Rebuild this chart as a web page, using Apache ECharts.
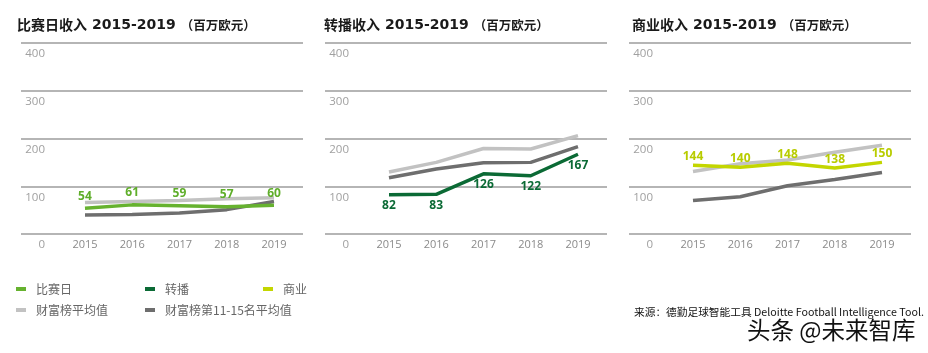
<!DOCTYPE html>
<html>
<head>
<meta charset="utf-8">
<script src="https://cdn.jsdelivr.net/npm/echarts@6/dist/echarts.min.js"></script>
<style>
  html, body { margin: 0; padding: 0; background: #fff; }
  #chart { width: 928px; height: 353px; }
</style>
</head>
<body>
<div id="chart"></div>
<script>
var years = [2015, 2016, 2017, 2018, 2019];

var matchday = [54, 61, 59, 57, 60];
var matchdayTopAvg = [66, 68, 70, 74, 76];
var matchdayMidAvg = [40, 41, 44, 51, 68];

var broadcast = [82, 83, 126, 122, 167];
var broadcastTopAvg = [130, 150, 179, 178, 206];
var broadcastMidAvg = [118, 136, 149, 150, 183];

var commercial = [144, 140, 148, 138, 150];
var commercialTopAvg = [131, 147, 155, 171, 186];
var commercialMidAvg = [70, 78, 101, 114, 129];

var TOP_NAME = '财富榜平均值';
var MID_NAME = '财富榜第11-15名平均值';
var TOP_COLOR = '#c2c2c2';
var MID_COLOR = '#6e6e6e';

var panels = [
  {title: '比赛日收入', name: '比赛日', color: '#66b22f', labelColor: '#5fae2a',
   main: matchday, top: matchdayTopAvg, mid: matchdayMidAvg,
   labelPos: 'top', labelDist: 6, left: 21, titleLeft: 17},
  {title: '转播收入', name: '转播', color: '#0b6a35', labelColor: '#0b6a35',
   main: broadcast, top: broadcastTopAvg, mid: broadcastMidAvg,
   labelPos: 'bottom', labelDist: 5, left: 325, titleLeft: 324},
  {title: '商业收入', name: '商业', color: '#c3d600', labelColor: '#b8cc00',
   main: commercial, top: commercialTopAvg, mid: commercialMidAvg,
   labelPos: 'top', labelDist: 3, left: 629, titleLeft: 632}
];

function pairs(vals) {
  return years.map(function (y, i) { return [y, vals[i]]; });
}

var chart = echarts.init(document.getElementById('chart'), null, {renderer: 'canvas'});

var titles = [], grids = [], xAxes = [], yAxes = [], series = [];

panels.forEach(function (p, i) {
  titles.push({
    text: '{c|' + p.title + '} {n|2015-2019} {p|（百万欧元）}',
    left: p.titleLeft,
    top: 16,
    padding: 0,
    textStyle: {
      rich: {
        c: {fontFamily: 'Noto Sans CJK SC', fontWeight: 'bold', fontSize: 14, color: '#1a1a1a', lineHeight: 18},
        n: {fontFamily: 'DejaVu Sans', fontWeight: 'bold', fontSize: 14, color: '#1a1a1a', lineHeight: 18},
        p: {fontFamily: 'Noto Sans CJK SC', fontWeight: 'bold', fontSize: 12.5, color: '#1a1a1a', lineHeight: 18}
      }
    }
  });
  grids.push({left: p.left, top: 43, width: 282, height: 191});
  xAxes.push({
    type: 'value',
    gridIndex: i,
    min: 2013.646,
    max: 2019.614,
    minInterval: 1,
    axisLine: {show: false},
    axisTick: {show: false},
    splitLine: {show: false},
    axisLabel: {
      showMinLabel: false,
      showMaxLabel: false,
      margin: 5,
      color: '#8a8a8a',
      fontSize: 11,
      fontFamily: 'Open Sans',
      formatter: function (v) { return years.indexOf(v) >= 0 ? String(v) : ''; }
    }
  });
  yAxes.push({
    type: 'value',
    gridIndex: i,
    min: 0,
    max: 400,
    interval: 100,
    axisLine: {show: false},
    axisTick: {show: false},
    splitLine: {show: true, lineStyle: {color: '#9c9c9c', width: 1.5}},
    axisLabel: {
      inside: true,
      align: 'right',
      verticalAlign: 'top',
      margin: 24,
      padding: [5, 0, 0, 0],
      color: '#a0a0a0',
      fontSize: 11.5,
      fontFamily: 'Open Sans'
    }
  });
  var base = {
    type: 'line',
    xAxisIndex: i,
    yAxisIndex: i,
    symbol: 'none',
    animation: false
  };
  series.push(Object.assign({}, base, {
    name: TOP_NAME, data: pairs(p.top), z: 2,
    itemStyle: {color: TOP_COLOR},
    lineStyle: {color: TOP_COLOR, width: 3.5}
  }));
  series.push(Object.assign({}, base, {
    name: MID_NAME, data: pairs(p.mid), z: 3,
    itemStyle: {color: MID_COLOR},
    lineStyle: {color: MID_COLOR, width: 3.5}
  }));
  series.push(Object.assign({}, base, {
    name: p.name, data: pairs(p.main), z: 4,
    symbol: 'circle',
    symbolSize: 0,
    showSymbol: true,
    itemStyle: {color: p.color},
    lineStyle: {color: p.color, width: 3.5},
    label: {
      show: true,
      position: p.labelPos,
      distance: p.labelDist,
      color: p.labelColor,
      fontSize: 12,
      fontWeight: 'bold',
      fontFamily: 'Open Sans',
      formatter: function (d) { return d.value[1]; }
    }
  }));
});

function legendAt(name, left, top) {
  return {
    data: [name],
    left: left,
    top: top,
    padding: 0,
    icon: 'rect',
    itemWidth: 10,
    itemHeight: 4,
    textStyle: {color: '#666', fontSize: 12, fontFamily: 'Noto Sans CJK SC', padding: [0, 0, 0, 5]}
  };
}

var option = {
  animation: false,
  title: titles,
  grid: grids,
  xAxis: xAxes,
  yAxis: yAxes,
  legend: [
    legendAt('比赛日', 16, 283),
    legendAt('转播', 145, 283),
    legendAt('商业', 263, 283),
    legendAt(TOP_NAME, 16, 304),
    legendAt(MID_NAME, 145, 304)
  ],
  graphic: [
    {
      type: 'text', left: 634, top: 307,
      style: {
        text: '来源：德勤足球智能工具 Deloitte Football Intelligence Tool.',
        fontSize: 10.7, fontFamily: 'Noto Sans CJK SC', fill: '#111'
      }
    },
    {
      type: 'text', left: 747, top: 318,
      style: {
        text: '头条 @未来智库',
        fontSize: 23.5, fontFamily: 'Noto Sans CJK SC', fill: '#111'
      }
    }
  ],
  series: series
};

chart.setOption(option);
</script>
</body>
</html>
